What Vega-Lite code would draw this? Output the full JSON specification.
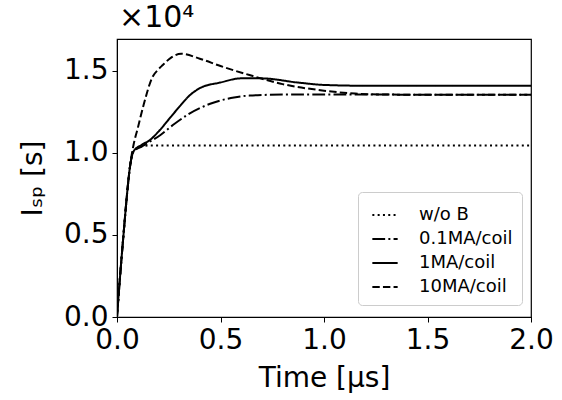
{
  "$schema": "https://vega.github.io/schema/vega-lite/v6.json",
  "autosize": "none",
  "width": 414,
  "height": 278,
  "padding": {"left": 117, "top": 39, "right": 31, "bottom": 83},
  "background": "white",
  "title": {"text": "×10⁴", "anchor": "start", "frame": "group", "fontSize": 30, "fontWeight": "normal", "font": "DejaVu Sans", "color": "black", "offset": 6, "dx": 2},
  "config": {
    "view": {"stroke": "black", "strokeWidth": 1.2},
    "axis": {"domainColor": "black", "tickColor": "black", "tickSize": 5, "labelColor": "black", "titleColor": "black", "labelFont": "DejaVu Sans", "titleFont": "DejaVu Sans", "labelFontSize": 28, "titleFontSize": 28, "titleFontWeight": "normal", "grid": false},
    "legend": {"labelFont": "DejaVu Sans", "labelFontSize": 18, "labelColor": "black"}
  },
  "data": {"values": [
    {"t": 0, "v": 0, "s": "w/o B"},
    {"t": 0.01, "v": 0.17, "s": "w/o B"},
    {"t": 0.02, "v": 0.33, "s": "w/o B"},
    {"t": 0.03, "v": 0.48, "s": "w/o B"},
    {"t": 0.04, "v": 0.63, "s": "w/o B"},
    {"t": 0.05, "v": 0.77, "s": "w/o B"},
    {"t": 0.06, "v": 0.89, "s": "w/o B"},
    {"t": 0.07, "v": 0.97, "s": "w/o B"},
    {"t": 0.08, "v": 1.01, "s": "w/o B"},
    {"t": 0.1, "v": 1.03, "s": "w/o B"},
    {"t": 0.15, "v": 1.045, "s": "w/o B"},
    {"t": 2.0, "v": 1.045, "s": "w/o B"},

    {"t": 0, "v": 0, "s": "0.1MA/coil"},
    {"t": 0.01, "v": 0.17, "s": "0.1MA/coil"},
    {"t": 0.02, "v": 0.33, "s": "0.1MA/coil"},
    {"t": 0.03, "v": 0.48, "s": "0.1MA/coil"},
    {"t": 0.04, "v": 0.63, "s": "0.1MA/coil"},
    {"t": 0.05, "v": 0.77, "s": "0.1MA/coil"},
    {"t": 0.06, "v": 0.89, "s": "0.1MA/coil"},
    {"t": 0.07, "v": 0.97, "s": "0.1MA/coil"},
    {"t": 0.08, "v": 1.01, "s": "0.1MA/coil"},
    {"t": 0.12, "v": 1.04, "s": "0.1MA/coil"},
    {"t": 0.16, "v": 1.07, "s": "0.1MA/coil"},
    {"t": 0.21, "v": 1.11, "s": "0.1MA/coil"},
    {"t": 0.28, "v": 1.18, "s": "0.1MA/coil"},
    {"t": 0.35, "v": 1.24, "s": "0.1MA/coil"},
    {"t": 0.45, "v": 1.3, "s": "0.1MA/coil"},
    {"t": 0.55, "v": 1.335, "s": "0.1MA/coil"},
    {"t": 0.64, "v": 1.35, "s": "0.1MA/coil"},
    {"t": 0.8, "v": 1.356, "s": "0.1MA/coil"},
    {"t": 1.0, "v": 1.356, "s": "0.1MA/coil"},
    {"t": 2.0, "v": 1.355, "s": "0.1MA/coil"},

    {"t": 0, "v": 0, "s": "1MA/coil"},
    {"t": 0.01, "v": 0.17, "s": "1MA/coil"},
    {"t": 0.02, "v": 0.33, "s": "1MA/coil"},
    {"t": 0.03, "v": 0.48, "s": "1MA/coil"},
    {"t": 0.04, "v": 0.63, "s": "1MA/coil"},
    {"t": 0.05, "v": 0.77, "s": "1MA/coil"},
    {"t": 0.06, "v": 0.89, "s": "1MA/coil"},
    {"t": 0.07, "v": 0.97, "s": "1MA/coil"},
    {"t": 0.08, "v": 1.01, "s": "1MA/coil"},
    {"t": 0.12, "v": 1.05, "s": "1MA/coil"},
    {"t": 0.16, "v": 1.08, "s": "1MA/coil"},
    {"t": 0.2, "v": 1.13, "s": "1MA/coil"},
    {"t": 0.26, "v": 1.22, "s": "1MA/coil"},
    {"t": 0.3, "v": 1.28, "s": "1MA/coil"},
    {"t": 0.35, "v": 1.35, "s": "1MA/coil"},
    {"t": 0.4, "v": 1.395, "s": "1MA/coil"},
    {"t": 0.5, "v": 1.43, "s": "1MA/coil"},
    {"t": 0.6, "v": 1.455, "s": "1MA/coil"},
    {"t": 0.7, "v": 1.455, "s": "1MA/coil"},
    {"t": 0.87, "v": 1.43, "s": "1MA/coil"},
    {"t": 1.0, "v": 1.415, "s": "1MA/coil"},
    {"t": 1.2, "v": 1.41, "s": "1MA/coil"},
    {"t": 2.0, "v": 1.41, "s": "1MA/coil"},

    {"t": 0, "v": 0, "s": "10MA/coil"},
    {"t": 0.01, "v": 0.17, "s": "10MA/coil"},
    {"t": 0.02, "v": 0.33, "s": "10MA/coil"},
    {"t": 0.03, "v": 0.48, "s": "10MA/coil"},
    {"t": 0.04, "v": 0.63, "s": "10MA/coil"},
    {"t": 0.05, "v": 0.77, "s": "10MA/coil"},
    {"t": 0.06, "v": 0.89, "s": "10MA/coil"},
    {"t": 0.07, "v": 0.98, "s": "10MA/coil"},
    {"t": 0.08, "v": 1.05, "s": "10MA/coil"},
    {"t": 0.1, "v": 1.15, "s": "10MA/coil"},
    {"t": 0.13, "v": 1.3, "s": "10MA/coil"},
    {"t": 0.17, "v": 1.46, "s": "10MA/coil"},
    {"t": 0.2, "v": 1.51, "s": "10MA/coil"},
    {"t": 0.22, "v": 1.535, "s": "10MA/coil"},
    {"t": 0.26, "v": 1.58, "s": "10MA/coil"},
    {"t": 0.31, "v": 1.605, "s": "10MA/coil"},
    {"t": 0.4, "v": 1.575, "s": "10MA/coil"},
    {"t": 0.5, "v": 1.53, "s": "10MA/coil"},
    {"t": 0.64, "v": 1.475, "s": "10MA/coil"},
    {"t": 0.8, "v": 1.42, "s": "10MA/coil"},
    {"t": 1.0, "v": 1.38, "s": "10MA/coil"},
    {"t": 1.15, "v": 1.362, "s": "10MA/coil"},
    {"t": 1.3, "v": 1.356, "s": "10MA/coil"},
    {"t": 2.0, "v": 1.355, "s": "10MA/coil"}
  ]},
  "mark": {"type": "line", "color": "black", "strokeWidth": 2, "clip": true, "interpolate": "monotone"},
  "encoding": {
    "x": {"field": "t", "type": "quantitative", "scale": {"domain": [0, 2], "nice": false}, "axis": {"values": [0, 0.5, 1, 1.5, 2], "format": ".1f", "labelFlush": false, "labelPadding": 4, "title": "Time [μs]", "titlePadding": 10}},
    "y": {"field": "v", "type": "quantitative", "scale": {"domain": [0, 1.695], "nice": false}, "axis": {"values": [0, 0.5, 1, 1.5], "format": ".1f", "labelPadding": 4, "title": "Iₛₚ [s]", "titlePadding": 16}},
    "strokeDash": {"field": "s", "type": "nominal", "scale": {"domain": ["w/o B", "0.1MA/coil", "1MA/coil", "10MA/coil"], "range": [[2, 3.3], [12.8, 3.2, 2, 3.2], [1, 0], [7.4, 3.2]]},
      "legend": {"title": null, "orient": "none", "legendX": 241, "legendY": 153, "symbolType": "stroke", "symbolSize": 640, "symbolOffset": 4, "symbolStrokeWidth": 2, "symbolStrokeColor": "black", "strokeColor": "#cccccc", "fillColor": "white", "cornerRadius": 4, "padding": 9, "rowPadding": 1, "labelOffset": 20, "labelLimit": 200}},
    "order": {"field": "t", "type": "quantitative"}
  }
}
